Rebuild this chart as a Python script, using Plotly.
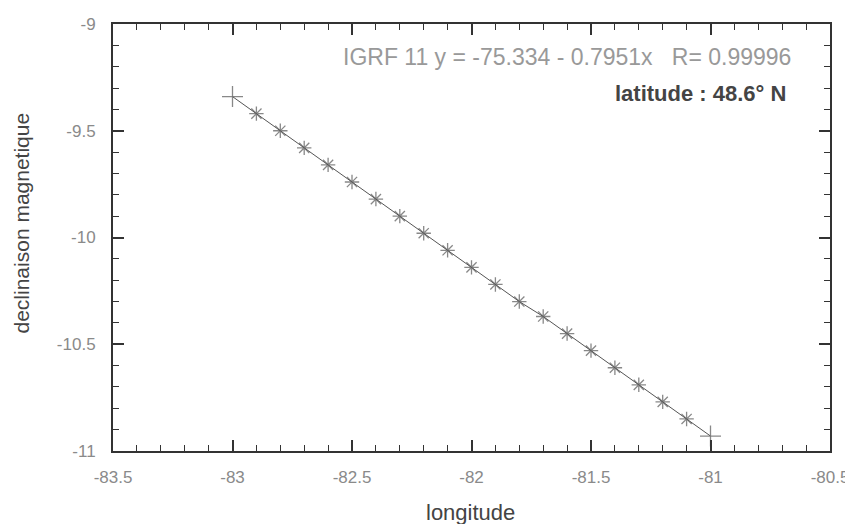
import plotly.graph_objects as go

longitude = [-83.0, -82.9, -82.8, -82.7, -82.6, -82.5, -82.4, -82.3, -82.2, -82.1, -82.0,
             -81.9, -81.8, -81.7, -81.6, -81.5, -81.4, -81.3, -81.2, -81.1, -81.0]
declinaison = [-9.34, -9.42, -9.50, -9.58, -9.66, -9.74, -9.82, -9.90, -9.98, -10.06, -10.14,
               -10.22, -10.30, -10.37, -10.45, -10.53, -10.61, -10.69, -10.77, -10.85, -10.93]
x_ticks = [-83.5, -83, -82.5, -82, -81.5, -81, -80.5]
x_labels = ["-83.5", "-83", "-82.5", "-82", "-81.5", "-81", "-80.5"]
y_ticks = [-11, -10.5, -10, -9.5, -9]
y_labels = ["-11", "-10.5", "-10", "-9.5", "-9"]

FONT = "Liberation Sans, Arial, sans-serif"

symbols = ["cross-thin-open"] + ["asterisk-open"] * (len(longitude) - 2) + ["cross-thin-open"]
sizes = [15] + [12] * (len(longitude) - 2) + [15]

fig = go.Figure()
fig.add_trace(go.Scatter(
    x=longitude, y=declinaison, mode="lines+markers",
    line=dict(color="#555555", width=1),
    marker=dict(symbol=symbols, size=sizes, color="#555555", line=dict(color="#555555", width=1.3)),
    showlegend=False,
))

axis_common = dict(
    showgrid=False, zeroline=False, showline=True, linecolor="#333333", linewidth=2,
    mirror="ticks", ticks="inside", ticklen=11, tickwidth=1.5, tickcolor="#333333",
    tickfont=dict(family=FONT, size=17, color="#8a8a8a"),
    automargin=False,
)

fig.update_xaxes(
    range=[-83.5, -80.5], tickvals=x_ticks, ticktext=x_labels, ticklabelstandoff=10,
    minor=dict(dtick=0.1, tick0=-83.5, ticks="inside", ticklen=6, tickwidth=1, tickcolor="#333333"),
    **axis_common,
)
fig.update_yaxes(
    range=[-11, -9], tickvals=y_ticks, ticktext=y_labels, ticklabelstandoff=12,
    minor=dict(dtick=0.1, tick0=-11, ticks="inside", ticklen=6, tickwidth=1, tickcolor="#333333"),
    **axis_common,
)

# axis titles
fig.add_annotation(
    x=0.498, y=-0.143, xref="paper", yref="paper", xanchor="center", yanchor="middle",
    text="longitude", showarrow=False,
    font=dict(family=FONT, size=22, color="#444444"),
)
fig.add_annotation(
    x=-0.127, y=0.535, xref="paper", yref="paper", xanchor="center", yanchor="middle",
    text="declinaison magnetique", showarrow=False, textangle=-90,
    font=dict(family=FONT, size=21, color="#444444"),
)

fig.add_annotation(
    x=0.948, y=0.923, xref="paper", yref="paper", xanchor="right", yanchor="middle",
    text="IGRF 11 y = -75.334 - 0.7951x   R= 0.99996", showarrow=False,
    font=dict(family=FONT, size=23, color="#999999"),
)
fig.add_annotation(
    x=0.941, y=0.838, xref="paper", yref="paper", xanchor="right", yanchor="middle",
    text="<b>latitude : 48.6° N</b>", showarrow=False,
    font=dict(family=FONT, size=22, color="#444444"),
)

# page body has an 8px margin; size the figure so the plot lands where the reference has it
fig.update_layout(
    width=845, height=516,
    margin=dict(l=105, r=23, t=16, b=73),
    paper_bgcolor="white", plot_bgcolor="white",
)

fig.write_html("out.html")
